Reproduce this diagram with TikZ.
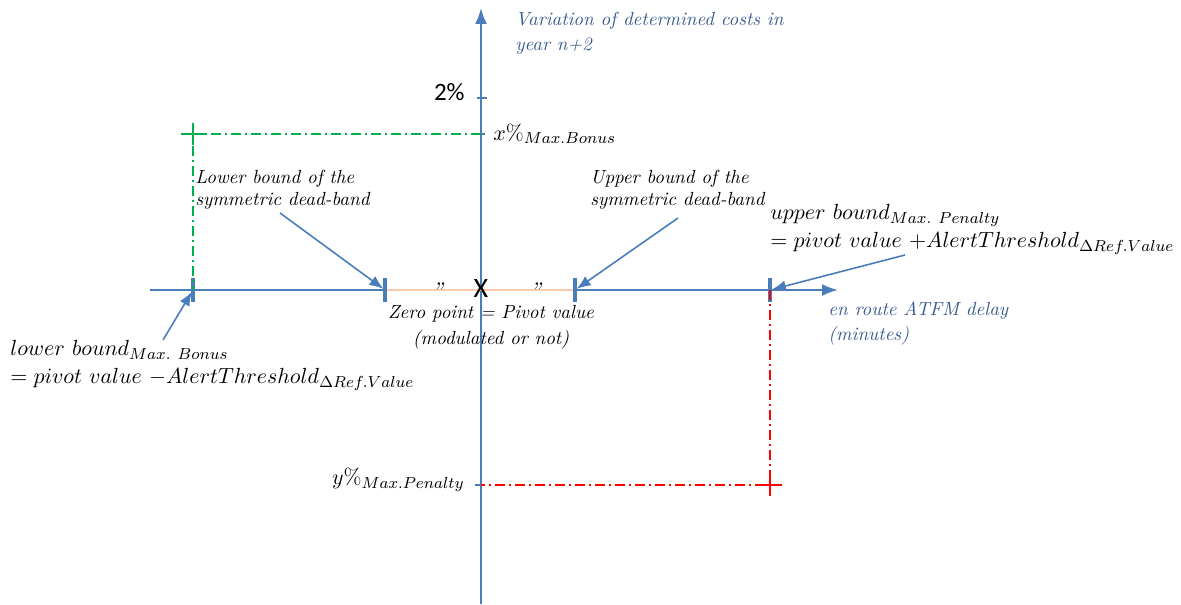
\documentclass[tikz,border=0pt]{standalone}
\usepackage{fontspec}
\usepackage{amsmath}
\newfontfamily\calibri{Carlito}
\usetikzlibrary{arrows.meta}
\definecolor{axisblue}{HTML}{4A7EBB}
\definecolor{labelblue}{HTML}{365A8E}
\definecolor{peach}{HTML}{F8CBAD}
\definecolor{bonusgreen}{HTML}{00B050}
\definecolor{penaltyred}{HTML}{FF0000}

\begin{document}
\begin{tikzpicture}[x=0.5pt, y=-0.5pt,
    axis/.style={axisblue, line width=1pt},
    tickmark/.style={axisblue, line width=1.6pt},
    note/.style={-{Latex[length=7pt,width=5.5pt]}, axisblue, line width=0.8pt, shorten >=1pt},
    guide/.style={line width=0.8pt, dash pattern=on 5pt off 2pt on 1pt off 2pt},
    plusmark/.style={line width=1pt},
    formula/.style={font=\fontsize{11}{14}\selectfont, align=left, inner sep=0pt},
    remark/.style={font=\fontsize{9.5}{11}\selectfont\itshape, align=left, inner sep=0pt},
    axislabel/.style={font=\fontsize{9.5}{12.5}\selectfont\itshape, text=labelblue, align=left, inner sep=0pt},
]
    \useasboundingbox (0,0) rectangle (1181,604);

    % Axes
    \coordinate (O) at (481,290);
    \coordinate (ytop) at (481,8);
    \coordinate (ybot) at (481,604);
    \coordinate (xleft) at (150,290);
    \coordinate (xright) at (838,290);
    \draw[axis, -{Latex[length=8pt,width=6pt]}] (ybot) -- (ytop);
    \draw[axis, -{Latex[length=8pt,width=6pt]}] (xleft) -- (xright);

    % Bounds on the delay axis
    \coordinate (tbonus) at (193,290);
    \coordinate (tlow) at (385,290);
    \coordinate (thigh) at (575,290);
    \coordinate (tpen) at (770,290);
    \draw[peach, line width=1.3pt] (tlow) -- (thigh);
    \foreach \t in {tbonus, tlow, thigh, tpen}
        \draw[tickmark] (\t) ++(0,-12) -- ++(0,24);

    % Ticks on the cost axis
    \coordinate (ytwo) at (481,98);
    \coordinate (ybonus) at (481,134);
    \coordinate (ypen) at (481,485);
    \draw[tickmark, line width=1pt] (ytwo) ++(-4,0) -- ++(10,0);
    \draw[tickmark, line width=1pt] (ybonus) ++(-6,0) -- ++(10,0);
    \draw[tickmark, line width=1pt] (ypen) ++(-6,0) -- ++(10,0);

    % Max. bonus corner
    \coordinate (cbonus) at (193,134);
    \draw[guide, bonusgreen] (ybonus) -- (cbonus) -- (tbonus);
    \draw[plusmark, bonusgreen] (cbonus) ++(-12,0) -- ++(24,0) (cbonus) ++(0,-11) -- ++(0,22);

    % Max. penalty corner
    \coordinate (cpen) at (770,485);
    \draw[guide, penaltyred] (tpen) -- (cpen) -- (ypen);
    \draw[plusmark, penaltyred] (cpen) ++(-12,0) -- ++(24,0) (cpen) ++(0,-11) -- ++(0,22);

    % Zero point
    \node[font=\calibri\fontsize{14}{14}\selectfont, inner sep=0pt] (zero) at (481,289) {X};
    \node[font=\fontsize{12}{12}\selectfont\itshape, inner sep=0pt] (qleft) at (437,291) {\symbol{34}};
    \node[font=\fontsize{12}{12}\selectfont\itshape, inner sep=0pt] (qright) at (535,291) {\symbol{34}};
    \node[font=\fontsize{9.5}{13}\selectfont\itshape, align=center, inner sep=0pt, anchor=north] (pivot) at (491,305)
        {Zero point = Pivot value\\(modulated or not)};

    % Axis labels
    \node[axislabel, anchor=north west] (costlabel) at (515,12)
        {Variation of determined costs in\\year n+2};
    \node[axislabel, anchor=north west] (delaylabel) at (828,301)
        {en route ATFM delay\\(minutes)};
    \node[font=\calibri\fontsize{12.5}{12.5}\selectfont, anchor=east, inner sep=0pt] (twolabel) at (465,92) {2\%};
    \node[formula, anchor=west] (bonuslabel) at (493,134) {$x\%_{Max.Bonus}$};
    \node[formula, anchor=east] (penlabel) at (465,480) {$y\%_{Max.Penalty}$};

    % Dead-band notes
    \node[remark, anchor=north west] (deadlow) at (195,170)
        {Lower bound of the\\symmetric dead-band};
    \node[remark, anchor=north west] (deadhigh) at (590,170)
        {Upper bound of the\\symmetric dead-band};
    \coordinate (deadlowtail) at (280,213);
    \coordinate (deadhightail) at (678,218);
    \draw[note] (deadlowtail) -- (tlow);
    \draw[note] (deadhightail) -- (thigh);

    % Bound formulas
    \node[formula, anchor=north west] (penbound) at (770,204)
        {$upper\ bound_{Max.\ Penalty}$\\$= pivot\ value\ {+}AlertThreshold_{\Delta Ref.Value}$};
    \node[formula, anchor=north west] (bonusbound) at (10,340)
        {$lower\ bound_{Max.\ Bonus}$\\$= pivot\ value\ {-}AlertThreshold_{\Delta Ref.Value}$};
    \coordinate (penboundtail) at (905,255);
    \coordinate (bonusboundtail) at (163,340);
    \draw[note] (penboundtail) -- (tpen);
    \draw[note] (bonusboundtail) -- (tbonus);
\end{tikzpicture}
\end{document}
